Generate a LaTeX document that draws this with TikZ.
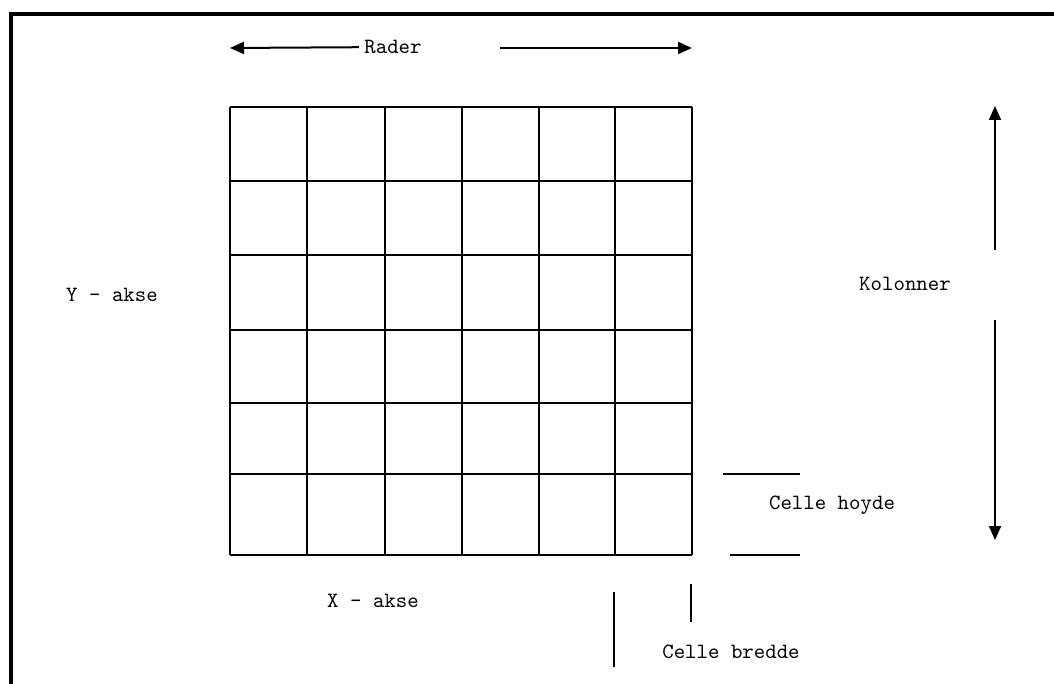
\documentclass[tikz,border=0pt]{standalone}
\usetikzlibrary{arrows.meta,positioning}

\begin{document}
\begin{tikzpicture}[x=0.5pt,y=-0.5pt,>={Triangle[length=7pt,width=6pt]},
lbl/.style={font=\ttfamily\fontsize{10.9}{12}\selectfont,inner sep=0pt},
gl/.style={line width=1pt}, ar/.style={line width=1pt,->}, tk/.style={line width=1pt}]
\useasboundingbox (0,0) rectangle (1054,684);
\draw[line width=1.6pt] (11,684)--(11,14)--(1054,14);
% ruter
\foreach \x in {230,307,385,462,539,615,692}{\draw[gl] (\x,107)--(\x,555);}
\foreach \y in {107,181,255,330,403,474,555}{\draw[gl] (230,\y)--(692,\y);}
% tekster
\node[lbl] (rader) at (393,47) {Rader};
\node[lbl] (kol) at (905,284) {Kolonner};
\node[lbl] (yakse) at (112,295) {Y - akse};
\node[lbl] (xakse) at (373,601) {X - akse};
\node[lbl] (hoyde) at (832,505) {Celle hoyde};
\node[lbl] (bredde) at (731,652) {Celle bredde};
% piler
\coordinate (r1) at (230,48); \coordinate (r2) at (500,48); \coordinate (r3) at (692,48);
\draw[ar,shorten <=2.5pt] (rader) -- (r1); \draw[ar] (r2) -- (r3);
\coordinate (k1) at (995,250); \coordinate (k2) at (995,106);
\coordinate (k3) at (995,320); \coordinate (k4) at (995,540);
\draw[ar] (k1) -- (k2); \draw[ar] (k3) -- (k4);
% celle mål
\coordinate (h1) at (723,474); \coordinate (h2) at (800,474);
\coordinate (h3) at (730,555); \coordinate (h4) at (800,555);
\draw[tk] (h1) -- (h2); \draw[tk] (h3) -- (h4);
\coordinate (b1) at (614,592); \coordinate (b2) at (614,667);
\coordinate (b3) at (691,584); \coordinate (b4) at (691,622);
\draw[tk] (b1) -- (b2); \draw[tk] (b3) -- (b4);
\end{tikzpicture}
\end{document}
